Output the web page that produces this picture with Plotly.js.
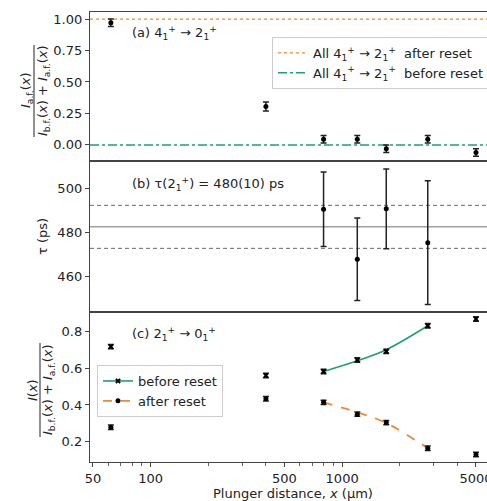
<!DOCTYPE html>
<html>
<head>
<meta charset="utf-8">
<script src="https://cdn.plot.ly/plotly-3.0.1.min.js"></script>
<style>html,body{margin:0;padding:0;overflow:hidden;background:#fff;}</style>
</head>
<body>
<div id="chart" style="width:495px;height:501px;"></div>
<script>
// ---------- data ----------
const distances = [62, 400, 800, 1200, 1700, 2800, 5000];
// panel (a): fraction after reset
const fracA = [0.97, 0.305, 0.045, 0.045, -0.03, 0.045, -0.06];
const fracAErr = [0.03, 0.035, 0.03, 0.03, 0.03, 0.03, 0.03];
const allAfterLevel = [1.0];
const allBeforeLevel = [0.0];
// panel (b): lifetimes
const tauX = [800, 1200, 1700, 2800];
const tauVals = [490.4, 467.6, 490.6, 475.2];
const tauErr = [17.0, 18.8, 18.2, 28.2];
const tauMean = [482.4];
const tauBand = [492.2, 472.6];
// panel (c): normalized intensities
const beforeReset = [0.717, 0.56, 0.582, 0.644, 0.691, 0.83, 0.867];
const afterReset = [0.279, 0.434, 0.414, 0.35, 0.304, 0.165, 0.131];
const cErr = [0.012, 0.012, 0.012, 0.012, 0.012, 0.012, 0.012];
const fitX = [800, 1200, 1700, 2800];
const fitBefore = [0.582, 0.640, 0.700, 0.830];
const fitAfter = [0.414, 0.360, 0.302, 0.165];
// axes
const xRangeLog = [1.6834, 3.7983];
const xTickVals = [50, 100, 500, 1000, 5000];
const xTickText = ['50', '100', '500', '1000', '5000'];
const xMinorVals = [60,70,80,90,200,300,400,600,700,800,900,2000,3000,4000,6000];
const yTicksA = [0, 0.25, 0.5, 0.75, 1.0];
const yTicksB = [460, 480, 500];
const yTicksC = [0.2, 0.4, 0.6, 0.8];

// ---------- style ----------
const GREEN = '#1f9e78';
const ORANGE = '#ec8b35';
const INK = '#222';
const FONT = 'DejaVu Sans, sans-serif';
const xEnds = [Math.pow(10, xRangeLog[0]), Math.pow(10, xRangeLog[1])];

function errTrace(x, y, err, xa, ya, symbol, size) {
  return {
    x: x, y: y, xaxis: xa, yaxis: ya, type: 'scatter', mode: 'markers',
    marker: {color: 'black', size: size, symbol: symbol},
    error_y: {type: 'data', array: err, visible: true, color: INK, thickness: 1.5, width: 3},
    showlegend: false, hoverinfo: 'skip'
  };
}
function hline(level, xa, ya, color, dash, width, name, legend) {
  return {
    x: xEnds, y: [level, level], xaxis: xa, yaxis: ya, type: 'scatter', mode: 'lines',
    line: {color: color, dash: dash, width: width},
    name: name || '', showlegend: !!name, legend: legend || 'legend', hoverinfo: 'skip'
  };
}

const traces = [
  // panel a
  hline(allAfterLevel[0], 'x', 'y', ORANGE, 'dot', 1.3, 'All 4<sub>1</sub><sup>+</sup> → 2<sub>1</sub><sup>+</sup>  after reset', 'legend'),
  hline(allBeforeLevel[0], 'x', 'y', GREEN, 'dashdot', 1.5, 'All 4<sub>1</sub><sup>+</sup> → 2<sub>1</sub><sup>+</sup>  before reset', 'legend'),
  errTrace(distances, fracA, fracAErr, 'x', 'y', 'circle', 5),
  // panel b
  hline(tauMean[0], 'x2', 'y2', '#a0a0a0', 'solid', 1.5),
  hline(tauBand[0], 'x2', 'y2', '#6a6a6a', '4px,3px', 1),
  hline(tauBand[1], 'x2', 'y2', '#6a6a6a', '4px,3px', 1),
  errTrace(tauX, tauVals, tauErr, 'x2', 'y2', 'circle', 5),
  // panel c fits
  {x: fitX, y: fitBefore, xaxis: 'x3', yaxis: 'y3', type: 'scatter', mode: 'lines',
   line: {color: GREEN, width: 1.6, shape: 'spline', smoothing: 1}, showlegend: false, hoverinfo: 'skip'},
  {x: fitX, y: fitAfter, xaxis: 'x3', yaxis: 'y3', type: 'scatter', mode: 'lines',
   line: {color: ORANGE, width: 1.8, dash: 'dash', shape: 'spline', smoothing: 1}, showlegend: false, hoverinfo: 'skip'},
  errTrace(distances, beforeReset, cErr, 'x3', 'y3', 'x', 5),
  errTrace(distances, afterReset, cErr, 'x3', 'y3', 'circle', 5),
  // legend entries for panel c
  {x: [null], y: [null], xaxis: 'x3', yaxis: 'y3', type: 'scatter', mode: 'lines+markers',
   name: 'before reset', legend: 'legend2', line: {color: GREEN, width: 1.6},
   marker: {color: 'black', symbol: 'x', size: 5}},
  {x: [null], y: [null], xaxis: 'x3', yaxis: 'y3', type: 'scatter', mode: 'lines+markers',
   name: 'after reset', legend: 'legend2', line: {color: ORANGE, width: 1.8, dash: 'dash'},
   marker: {color: 'black', symbol: 'circle', size: 5}}
];

const W = 495, H = 501, ML = 90, MR = 0, MT = 12, MB = 39;
const PW = W - ML - MR, PH = H - MT - MB;
const px = v => (v - ML) / PW;
const py = v => (H - MB - v) / PH;

const baseX = {
  type: 'log', range: xRangeLog, showline: true, mirror: true, linecolor: '#444', linewidth: 1.2,
  showgrid: false, zeroline: false, fixedrange: true
};
const baseY = {
  showline: true, mirror: true, linecolor: '#444', linewidth: 1.2, showgrid: false, zeroline: false,
  ticks: 'outside', ticklen: 4, tickwidth: 1, tickcolor: '#444', tickmode: 'array',
  tickfont: {size: 13, color: INK, family: FONT}, fixedrange: true
};

const annFont = {size: 13, color: INK, family: FONT};
const annotations = [
  {text: '(a) 4<sub>1</sub><sup>+</sup> → 2<sub>1</sub><sup>+</sup>', x: px(130), y: py(33), xanchor: 'left', yanchor: 'middle'},
  {text: '(b) τ(2<sub>1</sub><sup>+</sup>) = 480(10) ps', x: px(130), y: py(184), xanchor: 'left', yanchor: 'middle'},
  {text: '(c) 2<sub>1</sub><sup>+</sup> → 0<sub>1</sub><sup>+</sup>', x: px(130), y: py(334), xanchor: 'left', yanchor: 'middle'},
  // y titles
  {text: '<i>I</i><sub>a.f.</sub>(<i>x</i>)', x: px(26), y: py(90), textangle: -90, xanchor: 'center', yanchor: 'middle'},
  {text: '<i>I</i><sub>b.f.</sub>(<i>x</i>) + <i>I</i><sub>a.f.</sub>(<i>x</i>)', x: px(43), y: py(91), textangle: -90, xanchor: 'center', yanchor: 'middle'},
  {text: 'τ (ps)', x: px(42), y: py(237), textangle: -90, xanchor: 'center', yanchor: 'middle'},
  {text: '<i>I</i>(<i>x</i>)', x: px(32), y: py(390), textangle: -90, xanchor: 'center', yanchor: 'middle'},
  {text: '<i>I</i><sub>b.f.</sub>(<i>x</i>) + <i>I</i><sub>a.f.</sub>(<i>x</i>)', x: px(48), y: py(390), textangle: -90, xanchor: 'center', yanchor: 'middle'},
  {text: 'Plunger distance, <i>x</i> (μm)', x: 0.5, y: py(493), xanchor: 'center', yanchor: 'middle'}
].map(a => Object.assign({xref: 'paper', yref: 'paper', showarrow: false, font: annFont}, a));

const shapes = [
  {type: 'line', xref: 'paper', yref: 'paper', x0: px(34), x1: px(34), y0: py(137), y1: py(45), line: {color: INK, width: 1}},
  {type: 'line', xref: 'paper', yref: 'paper', x0: px(40), x1: px(40), y0: py(437), y1: py(343), line: {color: INK, width: 1}}
];

const layout = {
  width: W, height: H,
  margin: {l: ML, r: MR, t: MT, b: MB, pad: 0},
  paper_bgcolor: 'white', plot_bgcolor: 'white',
  font: {family: FONT, size: 13, color: INK},
  xaxis: Object.assign({}, baseX, {anchor: 'y', showticklabels: false, ticks: ''}),
  xaxis2: Object.assign({}, baseX, {anchor: 'y2', showticklabels: false, ticks: ''}),
  xaxis3: Object.assign({}, baseX, {
    anchor: 'y3', ticks: 'outside', ticklen: 4, tickwidth: 1, tickcolor: '#444',
    tickmode: 'array', tickvals: xTickVals, ticktext: xTickText,
    tickfont: {size: 13, color: INK, family: FONT},
    minor: {tickmode: 'array', tickvals: xMinorVals, ticks: 'outside', ticklen: 2.5, tickcolor: '#444', tickwidth: 0.8, showgrid: false}
  }),
  yaxis: Object.assign({}, baseY, {anchor: 'x', domain: [py(161), 1], range: [-0.128, 1.056], tickvals: yTicksA, tickformat: '.2f'}),
  yaxis2: Object.assign({}, baseY, {anchor: 'x2', domain: [py(312), py(161)], range: [443.6, 512.4], tickvals: yTicksB}),
  yaxis3: Object.assign({}, baseY, {anchor: 'x3', domain: [0, py(312)], range: [0.09, 0.905], tickvals: yTicksC, tickformat: '.1f'}),
  legend: {x: px(272), y: py(37), xanchor: 'left', yanchor: 'top', bgcolor: 'rgba(255,255,255,0.9)',
           bordercolor: '#cccccc', borderwidth: 1, font: {size: 13, color: INK, family: FONT}, tracegroupgap: 0},
  legend2: {x: px(97), y: py(365), xanchor: 'left', yanchor: 'top', bgcolor: 'rgba(255,255,255,0.9)',
            bordercolor: '#cccccc', borderwidth: 1, font: {size: 13, color: INK, family: FONT}, tracegroupgap: 0},
  annotations: annotations,
  shapes: shapes
};

Plotly.newPlot('chart', traces, layout, {displayModeBar: false, staticPlot: true});
</script>
</body>
</html>
